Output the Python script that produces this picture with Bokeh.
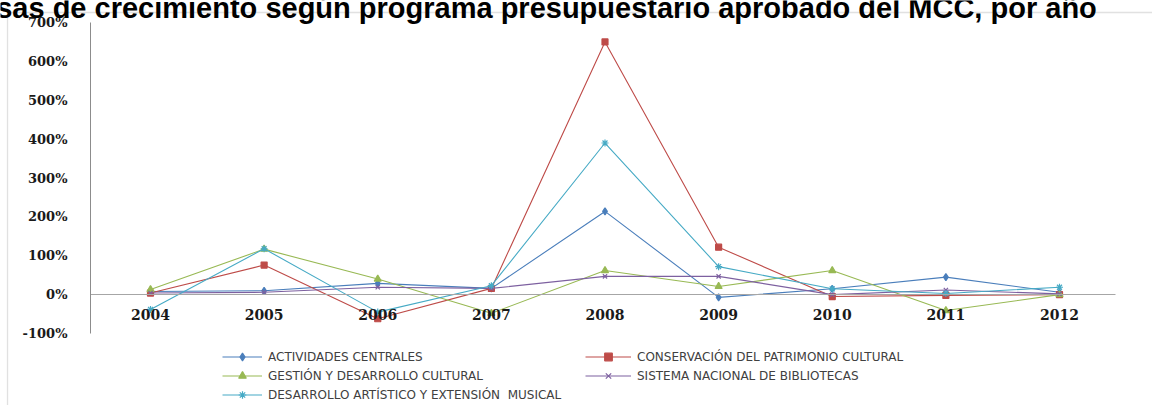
from bokeh.plotting import figure
from bokeh.models import (Range1d, FixedTicker, PrintfTickFormatter, Legend, LegendItem,
                          Label, BoxAnnotation, ColumnDataSource)
from bokeh.embed import file_html
from bokeh.resources import INLINE

# ---------------- data (growth rate, %) ----------------
years = [2004, 2005, 2006, 2007, 2008, 2009, 2010, 2011, 2012]
actividades_centrales = [8, 10, 29, 16, 214, -7, 15, 45, 6]
conservacion_patrimonio = [4, 76, -62, 16, 650, 122, -5, -2, 0]
gestion_desarrollo = [13, 117, 40, -48, 62, 21, 62, -41, 0]
sistema_bibliotecas = [4, 6, 19, 16, 47, 47, 0, 12, 2]
desarrollo_artistico = [-38, 118, -45, 23, 390, 72, 15, 3, 19]

series_names = ["ACTIVIDADES CENTRALES",
                "CONSERVACIÓN DEL PATRIMONIO CULTURAL",
                "GESTIÓN Y DESARROLLO CULTURAL",
                "SISTEMA NACIONAL DE BIBLIOTECAS",
                "DESARROLLO ARTÍSTICO Y EXTENSIÓN  MUSICAL"]
y_ticks = [-100, 0, 100, 200, 300, 400, 500, 600, 700]
title_text = "Tasas de crecimiento según programa presupuestario aprobado del MCC, por año"

# ---------------- layout (pixels) ----------------
W, H = 1152, 405
AX_L, AX_R, AX_T, AX_B = 90, 1115, 22, 333      # plot area of the original chart
PX_2004, PX_2012 = 150, 1059
ppy = (PX_2012 - PX_2004) / 8.0                 # px per year
ppu = (AX_B - AX_T) / 800.0                     # px per percent point
x_start = 2004 - PX_2004 / ppy
x_end = x_start + W / ppy
y_top = 700 + AX_T / ppu
y_bot = y_top - H / ppu


def dx(px):
    return x_start + px / ppy


def dy(py):
    return y_top - py / ppu


p = figure(width=W, height=H, output_backend="svg", toolbar_location=None,
           x_range=Range1d(x_start, x_end), y_range=Range1d(y_bot, y_top),
           min_border=0, min_border_left=0, min_border_right=0,
           min_border_top=0, min_border_bottom=0)
p.outline_line_color = None
p.xgrid.grid_line_color = None
p.ygrid.grid_line_color = None
p.background_fill_color = "white"
p.border_fill_color = "white"

# y axis at the left edge of the original plot area
p.yaxis.fixed_location = dx(AX_L)
p.yaxis.bounds = (-100, 700)
p.yaxis.ticker = FixedTicker(ticks=y_ticks)
p.yaxis.formatter = PrintfTickFormatter(format="%d%%")
p.yaxis.axis_line_color = "#8c8c8c"
p.yaxis.major_tick_line_color = None
p.yaxis.minor_tick_line_color = None
p.yaxis.major_label_standoff = 17
p.yaxis.major_label_text_font = "DejaVu Serif"
p.yaxis.major_label_text_font_style = "bold"
p.yaxis.major_label_text_font_size = "13px"
p.yaxis.major_label_text_color = "#1a1a1a"

# x axis crossing at 0
p.xaxis.fixed_location = 0
p.xaxis.bounds = (dx(AX_L), dx(AX_R))
p.xaxis.ticker = FixedTicker(ticks=years)
p.xaxis.axis_line_color = "#a6a6a6"
p.xaxis.major_tick_line_color = None
p.xaxis.minor_tick_line_color = None
p.xaxis.major_label_standoff = 8
p.xaxis.major_label_text_font = "DejaVu Serif"
p.xaxis.major_label_text_font_style = "bold"
p.xaxis.major_label_text_font_size = "14px"
p.xaxis.major_label_text_color = "#1a1a1a"

colors = ["#4A7EBB", "#BE4B48", "#98B954", "#7D60A0", "#46AAC5"]
markers = ["diamond", "square", "triangle", "x", "asterisk"]
sizes = [7, 6, 7, 6, 7]
data = [actividades_centrales, conservacion_patrimonio, gestion_desarrollo,
        sistema_bibliotecas, desarrollo_artistico]

items = []
for name, vals, c, m, s in zip(series_names, data, colors, markers, sizes):
    src = ColumnDataSource(dict(x=years, y=vals))
    r1 = p.line("x", "y", source=src, line_color=c, line_width=1.1)
    r2 = p.scatter("x", "y", source=src, marker=m, size=s, fill_color=c,
                   line_color=c, line_width=1.2)
    items.append(LegendItem(label=name, renderers=[r1, r2]))

# chart border (left/top visible)
p.add_layout(BoxAnnotation(left=dx(7), right=dx(W + 50), top=dy(12), bottom=dy(H + 50),
                           fill_alpha=0, line_color="#9a9a9a", line_width=1.3))

# title (top partly cut off as in reference)
p.add_layout(Label(x=dx(-36), y=dy(7), text=title_text, text_font="Liberation Sans",
                   text_font_style="bold", text_font_size="29px", text_color="black",
                   text_baseline="alphabetic", text_align="left"))


def make_legend(its, left_px, top_px, gw):
    row_h = 19
    n = len(its)
    vy = H - (top_px + n * row_h)
    lg = Legend(items=its, location=(left_px, vy), orientation="vertical",
                glyph_width=gw, glyph_height=row_h, label_height=row_h, spacing=0,
                padding=0, margin=0, border_line_color=None, background_fill_alpha=0,
                label_standoff=6, label_text_font="DejaVu Sans",
                label_text_font_size="12px", label_text_color="#404040")
    return lg


p.add_layout(make_legend([items[0], items[2], items[4]], 222, 347, 40))
p.add_layout(make_legend([items[1], items[3]], 585, 347, 46))

open("out.html", "w").write(file_html(p, INLINE))
